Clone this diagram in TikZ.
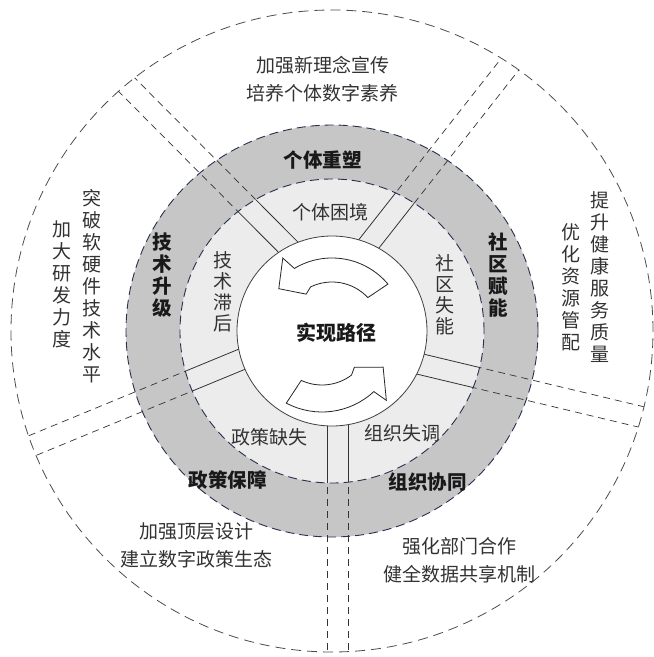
\documentclass[tikz,border=0pt]{standalone}
\usepackage{fontspec}
\usepackage{xcolor}
\usepackage{tikz}
\usetikzlibrary{calc}
\newfontfamily\cjk{Noto Sans CJK SC}
\definecolor{ringdark}{RGB}{198,198,198}
\definecolor{ringlight}{RGB}{236,236,236}
\definecolor{rimblue}{RGB}{38,48,78}
\definecolor{inkgray}{RGB}{50,50,50}
\tikzstyle{rim}=[draw=rimblue,line width=0.9pt,dash pattern=on 9pt off 5pt]
\tikzstyle{outer rim}=[draw=black!70,line width=0.8pt,dash pattern=on 10pt off 6pt]
\tikzstyle{spoke}=[draw=black!80,line width=0.7pt,dash pattern=on 7pt off 5pt]
\tikzstyle{spoke solid}=[draw=black!80,line width=0.8pt]
\tikzstyle{turn arrow}=[fill=white,draw=black!85,line width=0.8pt,line join=miter]
\tikzstyle{goal}=[inner sep=0pt,text=black!90,font=\cjk\bfseries\fontsize{20}{22}\selectfont]
\tikzstyle{path label}=[inner sep=0pt,align=center,text=black!90,font=\cjk\bfseries\fontsize{19.5}{22}\selectfont]
\tikzstyle{gap label}=[inner sep=0pt,align=center,text=inkgray,font=\cjk\fontsize{19}{21}\selectfont]
\tikzstyle{measure}=[inner sep=0pt,align=center,text=inkgray,font=\cjk\fontsize{19}{28}\selectfont]
\tikzstyle{measure col}=[measure,font=\cjk\fontsize{19}{22}\selectfont]

\begin{document}
\begin{tikzpicture}[x=1pt,y=1pt]
	\useasboundingbox (-332,-326) rectangle (322,331);
	% rings
	\draw[outer rim] (0,0) circle (321);
	\fill[ringdark] (0,0) circle (206);
	\begin{scope}
		\clip (0,0) circle (321);
		\foreach \px/\py/\qx/\qy in {-41/81/-206.5/247.5, 36/86/177/265.5, 92/-34/309.5/-86, -92/-29/-303/-116, 5.5/-95/5.5/-321} {
			\coordinate (sa) at ($(\px,\py)!-0.1!(\qx,\qy)$);
			\coordinate (sb) at ($(\px,\py)!1.1!(\qx,\qy)$);
			\draw[spoke] ($(sa)!10.5pt!90:(sb)$) -- ($(sb)!10.5pt!-90:(sa)$)
				($(sa)!10.5pt!-90:(sb)$) -- ($(sb)!10.5pt!90:(sa)$);
		}
	\end{scope}
	\draw[rim] (0,0) circle (206);
	\fill[ringlight] (0,0) circle (152);
	\begin{scope}
		\clip (0,0) circle (152);
		\foreach \px/\py/\qx/\qy in {-41/81/-206.5/247.5, 36/86/177/265.5, 92/-34/309.5/-86, -92/-29/-303/-116, 5.5/-95/5.5/-321} {
			\coordinate (sa) at ($(\px,\py)!-0.1!(\qx,\qy)$);
			\coordinate (sb) at ($(\px,\py)!1.1!(\qx,\qy)$);
			\draw[spoke solid] ($(sa)!10.5pt!90:(sb)$) -- ($(sb)!10.5pt!-90:(sa)$)
				($(sa)!10.5pt!-90:(sb)$) -- ($(sb)!10.5pt!90:(sa)$);
		}
	\end{scope}
	\draw[rim] (0,0) circle (152);
	\draw[fill=white,draw=black!75,line width=0.8pt] (0,0) circle (95);

	% the two turning arrows
	\draw[turn arrow] (40:73) arc[start angle=40,end angle=121,radius=73] -- (124:88) -- (141.5:68)
		-- (125:45) -- (116:49) arc[start angle=116,end angle=43,radius=49] -- cycle;
	\draw[turn arrow,shift={(-10,-5)}] (242:76) arc[start angle=242,end angle=313,radius=76] -- (315:91) -- (333:68.6)
		-- (316:45) -- (307:49) arc[start angle=307,end angle=245,radius=49] -- cycle;

	% labels
	\node[goal] (core) at (5,-2) {实现路径};
	\node[path label] (p1) at (-9,171) {个体重塑};
	\node[path label] (p2) at (166,56) {社\\区\\赋\\能};
	\node[path label] (p3) at (96,-151) {组织协同};
	\node[path label] (p4) at (-104,-149) {政策保障};
	\node[path label] (p5) at (-170,56) {技\\术\\升\\级};
	\node[gap label] (g1) at (-1.5,119) {个体困境};
	\node[gap label] (g2) at (113,36) {社\\区\\失\\能};
	\node[gap label] (g3) at (71,-102) {组织失调};
	\node[gap label] (g4) at (-62,-106) {政策缺失};
	\node[gap label] (g5) at (-109,39) {技\\术\\滞\\后};
	\node[measure] (m1) at (-9,252) {加强新理念宣传\\培养个体数字素养};
	\node[measure col] (m2a) at (268,54) {提\\升\\健\\康\\服\\务\\质\\量};
	\node[measure col] (m2b) at (239,43.5) {优\\化\\资\\源\\管\\配};
	\node[measure] (m3) at (128,-229.5) {强化部门合作\\健全数据共享机制};
	\node[measure] (m4) at (-135,-214.5) {加强顶层设计\\建立数字政策生态};
	\node[measure col] (m5a) at (-240,45) {突\\破\\软\\硬\\件\\技\\术\\水\\平};
	\node[measure col] (m5b) at (-270,47) {加\\大\\研\\发\\力\\度};
\end{tikzpicture}
\end{document}
